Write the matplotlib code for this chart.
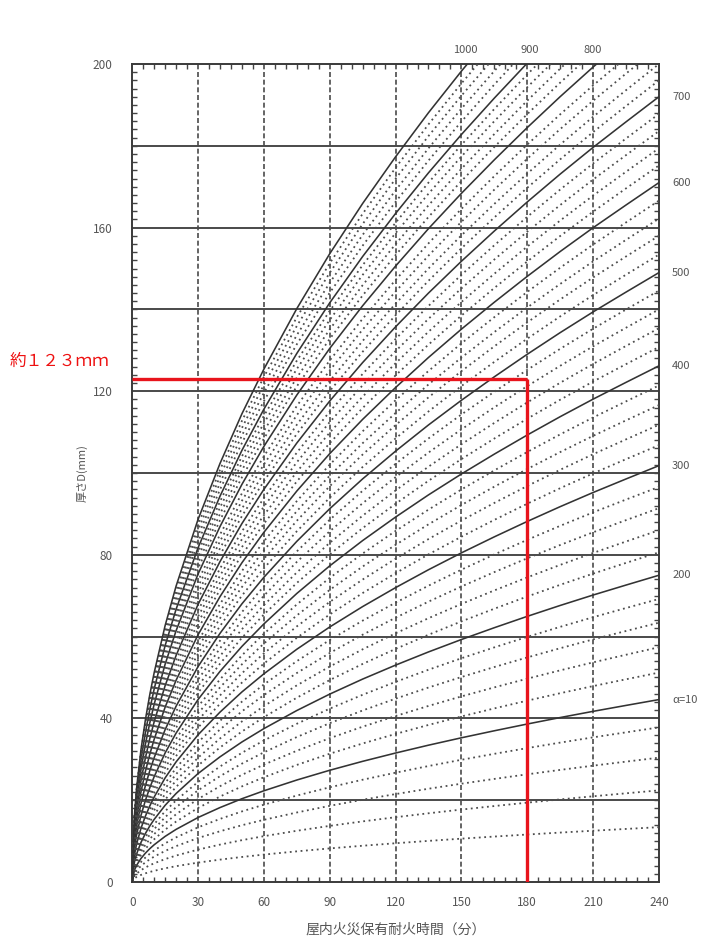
import numpy as np
import matplotlib
matplotlib.use("Agg")
import matplotlib.pyplot as plt

plt.rcParams['font.family'] = ['Noto Sans CJK JP', 'DejaVu Sans']

# curve family: alpha values, solid every 100, dotted in between
alphas = list(range(20, 1001, 20))

# thickness D (mm) of each curve read at t = 60 min
d_at_60 = [6.7, 11.2, 15.2, 18.9, 22.3, 25.6, 28.7, 31.7, 34.6, 37.5,
           40.3, 43.0, 45.7, 48.3, 50.9, 53.4, 55.9, 58.3, 60.7, 63.1,
           65.4, 67.7, 70.0, 72.3, 74.5, 76.7, 79.0, 81.1, 83.3, 85.5,
           87.6, 89.7, 91.8, 93.9, 96.0, 98.0, 100.0, 102.1, 104.1, 106.5,
           108.4, 110.3, 112.2, 114.0, 115.6, 117.6, 119.6, 121.6, 123.5, 125.4]

# common curve shape: D(t) / D(60)
t_samples = [0, 1, 2, 4, 6, 8, 10, 15, 20, 30, 40, 50, 60, 75, 90, 105,
             120, 135, 150, 165, 180, 195, 210, 225, 240]
shape = [0.0, 0.129, 0.183, 0.258, 0.316, 0.365, 0.408, 0.5, 0.577, 0.707,
         0.816, 0.913, 1.0, 1.118, 1.225, 1.323, 1.414, 1.5, 1.581, 1.658,
         1.732, 1.803, 1.871, 1.936, 2.0]

right_labels = ["700", "600", "500", "400", "300", "200", "α=10"]
right_label_alpha = [700, 600, 500, 400, 300, 200, 100]
top_labels = ["1000", "900", "800"]
top_label_t = [152, 181, 210]

red_t = 180
red_d = 123

fig = plt.figure(figsize=(7.07, 9.43), dpi=100)
ax = fig.add_axes([0.187, 0.0647, 0.745, 0.8674])

grey = "#4a4a4a"
shape = np.array(shape)
for a, d60 in zip(alphas, d_at_60):
    if a % 100 == 0:
        ax.plot(t_samples, d60 * shape, color="#333333", lw=1.15, zorder=3)
    else:
        ax.plot(t_samples, d60 * shape, color="#4d4d4d", lw=1.3,
                linestyle=(0, (1.0, 2.0)), zorder=3)

# grid: solid horizontals every 20 mm, dashed verticals every 30 min
for y in range(20, 200, 20):
    ax.axhline(y, color=grey, lw=1.4, zorder=2)
for x in range(30, 240, 30):
    ax.axvline(x, color=grey, lw=1.2, linestyle=(0, (3, 1.6)), zorder=2)

# red reading lines
ax.plot([0, red_t], [red_d, red_d], color="#e8141c", lw=2.4, zorder=5,
        solid_capstyle="butt")
ax.plot([red_t, red_t], [0, red_d], color="#e8141c", lw=2.4, zorder=5,
        solid_capstyle="butt")

ax.set_xlim(0, 240)
ax.set_ylim(0, 200)
ax.set_xticks(range(0, 241, 30))
ax.set_yticks(range(0, 201, 40))
ax.set_xticks(range(0, 241, 5), minor=True)
ax.set_yticks(range(0, 201, 2), minor=True)
ax.tick_params(which="major", length=0, labelsize=8.5, labelcolor="#555555")
ax.tick_params(axis="y", which="major", pad=14)
ax.tick_params(axis="x", which="major", pad=10)
ax.tick_params(which="minor", direction="in", length=3.5, width=1.0,
               color="#444444", top=True, right=True)
for s in ax.spines.values():
    s.set_color("#3a3a3a")
    s.set_linewidth(1.4)

# curve labels
for lab, a in zip(right_labels, right_label_alpha):
    d_end = d_at_60[alphas.index(a)] * shape[-1]
    ax.text(246, d_end, lab, fontsize=8, color="#555555",
            ha="left", va="center", clip_on=False)
for lab, t in zip(top_labels, top_label_t):
    ax.text(t, 203.5, lab, fontsize=8, color="#555555",
            ha="center", va="center", clip_on=False)

fig.text(0.014, 1 - 361 / 943, "約１２３ｍｍ", fontsize=12, color="#ee1111",
         ha="left", va="center")

ax.set_ylabel("厚さD(mm)", fontsize=8, color="#555555", labelpad=4)
ax.set_xlabel("屋内火災保有耐火時間（分）", fontsize=10, color="#555555",
              labelpad=10)

fig.savefig("out.png", dpi=100)
